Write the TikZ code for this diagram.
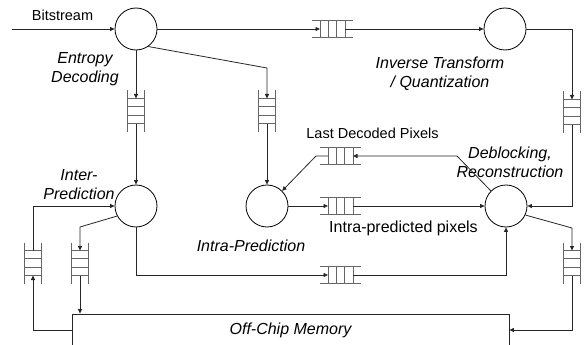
\documentclass[tikz,border=0pt]{standalone}
\usepackage{fontspec}
\setmainfont{Liberation Sans}
\usetikzlibrary{arrows.meta,calc}

\tikzset{
  proc/.style={circle, draw=black, line width=0.8pt, minimum size=42pt, inner sep=0pt},
  hq/.style={minimum width=25pt, minimum height=17pt, inner sep=0pt, outer sep=0pt},
  vq/.style={minimum width=17pt, minimum height=25pt, inner sep=0pt, outer sep=0pt},
  qline/.style={draw=black!60, line width=1pt},
  arr/.style={draw=black!85, line width=0.8pt, -{Triangle[length=4.5pt,width=4pt]}},
  lbl/.style={font=\fontsize{14.5}{17}\selectfont, inner sep=0pt},
  tag/.style={font=\fontsize{16}{19}\selectfont\itshape, inner sep=0pt, align=center},
  big/.style={font=\fontsize{16}{19}\selectfont, inner sep=0pt},
}

\begin{document}
\begin{tikzpicture}[x=1pt, y=-1pt]
\useasboundingbox (0,0) rectangle (584,345);

% processes
\node[proc] (E)  at (136,29)  {};
\node[proc] (IT) at (505,29)  {};
\node[proc] (IP) at (136,206) {};
\node[proc] (IA) at (267,206) {};
\node[proc] (DB) at (506,206) {};

% FIFO queues
\node[hq] (q1)   at (332.5,29)  {};
\node[hq] (qld)  at (340.5,156) {};
\node[hq] (qip)  at (340.5,206) {};
\node[hq] (qbt)  at (340.5,275) {};
\node[vq] (qe)   at (136,111)   {};
\node[vq] (qa)   at (267,111)   {};
\node[vq] (qr)   at (572,112)   {};
\node[vq] (qrb)  at (572,263)   {};
\node[vq] (ql)   at (33,263)    {};
\node[vq] (ql2)  at (80,263)    {};

\foreach \q in {q1,qld,qip,qbt} {
  \draw[qline] ([xshift=-8pt]\q.north west) -- ([xshift=8pt]\q.north east)
               ([xshift=-8pt]\q.south west) -- ([xshift=8pt]\q.south east);
  \draw[qline] (\q.north west) -- (\q.south west)
               ($(\q.north west)!1/3!(\q.north east)$) -- ($(\q.south west)!1/3!(\q.south east)$)
               ($(\q.north west)!2/3!(\q.north east)$) -- ($(\q.south west)!2/3!(\q.south east)$)
               (\q.north east) -- (\q.south east);
}
\foreach \q in {qe,qa,qr,qrb,ql,ql2} {
  \draw[qline] ([yshift=8pt]\q.north west) -- ([yshift=-8pt]\q.south west)
               ([yshift=8pt]\q.north east) -- ([yshift=-8pt]\q.south east);
  \draw[qline] (\q.north west) -- (\q.north east)
               ($(\q.north west)!1/3!(\q.south west)$) -- ($(\q.north east)!1/3!(\q.south east)$)
               ($(\q.north west)!2/3!(\q.south west)$) -- ($(\q.north east)!2/3!(\q.south east)$)
               (\q.south west) -- (\q.south east);
}

% off-chip memory
\node[draw=black!85, line width=0.8pt, minimum width=437pt, minimum height=46pt,
      inner sep=0pt] (mem) at (290.5,337) {};
\node[tag] (memlabel) at (290.5,330) {Off-Chip Memory};

% labels
\node[lbl] (bs) at (62.5,15) {Bitstream};
\node[tag] at (85,69) {Entropy\\Decoding};
\node[tag] at (440,74) {Inverse Transform\\/ Quantization};
\node[tag] at (79,185) {Inter-\\Prediction};
\node[tag] at (251,246) {Intra-Prediction};
\node[tag] at (510,162) {Deblocking,\\Reconstruction};
\node[big] at (403.5,228) {Intra-predicted pixels};
\node[lbl] at (372.5,133) {Last Decoded Pixels};

% bend points
\coordinate (bsin) at (12,29);
\coordinate (ebend) at (267,68);
\coordinate (dbk) at (457,156);
\coordinate (lk) at (316,156);
\coordinate (dbr) at (572,228);
\coordinate (ipl) at (80,227);

% connectors
\draw[arr] (bsin) -- (E.west);
\draw[arr] (E.east) -- (q1.west);
\draw[arr] (q1.east) -- (IT.west);
\draw[arr] (IT.east) -| (qr.north);
\draw[arr] (qr.south) |- (DB.east);
\draw[arr] (E.south) -- (qe.north);
\draw[arr] (qe.south) -- (IP.north);
\draw[arr] (E.-55) -- (ebend) -- (qa.north);
\draw[arr] (qa.south) -- (IA.north);
\draw[arr] (DB.135) -- (dbk) -- (qld.east);
\draw[arr] (qld.west) -- (lk) -- (IA.45);
\draw[arr] (IA.east) -- (qip.west);
\draw[arr] (qip.east) -- (DB.west);
\draw[arr] (IP.south) |- (qbt.west);
\draw[arr] (qbt.east) -| (DB.south);
\draw[arr] (DB.-25) -- (dbr) -- (qrb.north);
\draw[arr] (qrb.south) |- (mem.east |- memlabel);
\draw[arr] (mem.west |- memlabel) -| (ql.south);
\draw[arr] (ql.north) |- (IP.west);
\draw[arr] (IP.208) -- (ipl) -- (ql2.north);
\draw[arr] (ql2.south) -- (ql2.south |- mem.north);
\end{tikzpicture}
\end{document}
